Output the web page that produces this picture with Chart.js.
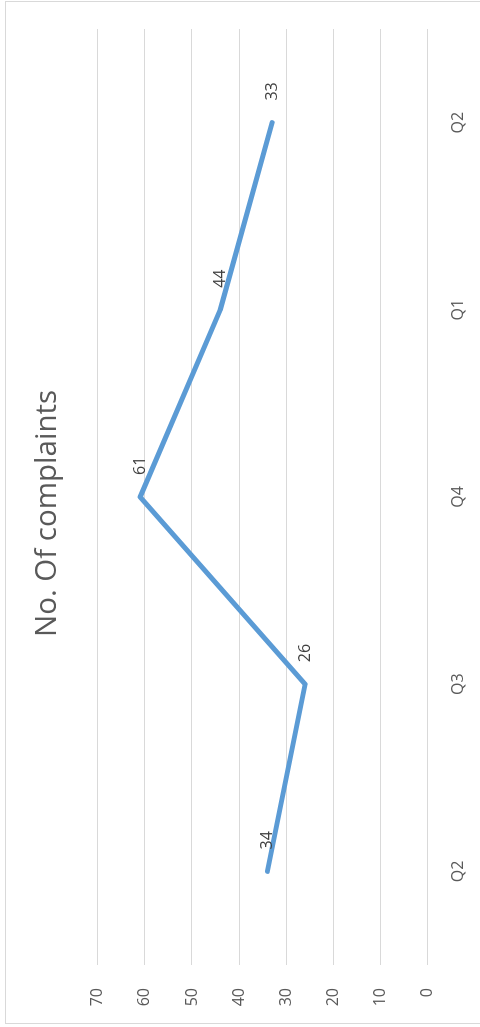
<!DOCTYPE html>
<html>
<head>
<meta charset="utf-8">
<script src="https://cdn.jsdelivr.net/npm/chart.js@4/dist/chart.umd.min.js"></script>
<style>
  html, body { margin: 0; padding: 0; background: #fff; overflow: hidden; }
  body { width: 480px; height: 1027px; position: relative; }
  /* chart is laid out landscape and turned a quarter to the left */
  #wrap {
    position: absolute; left: 0; top: 0;
    width: 1027px; height: 480px;
    transform-origin: 0 0;
    transform: translateY(1027px) rotate(-90deg);
  }
  #frame {
    position: absolute; left: 3px; top: 5px;
    width: 1021px; height: 500px;
    border: 1px solid #d9d9d9;
  }
  #myChart { position: absolute; left: 0; top: 0; }
</style>
</head>
<body>
<div id="wrap">
  <canvas id="myChart" width="1027" height="480"></canvas>
  <div id="frame"></div>
</div>
<script>
const quarters = ["Q2", "Q3", "Q4", "Q1", "Q2"];
const complaints = [34, 26, 61, 44, 33];
const yTicks = [0, 10, 20, 30, 40, 50, 60, 70];

const font = "'Open Sans', 'DejaVu Sans', sans-serif";

// value labels to the right of each point
const pointLabels = {
  id: "pointLabels",
  afterDatasetsDraw(chart) {
    const ctx = chart.ctx;
    const meta = chart.getDatasetMeta(0);
    ctx.save();
    ctx.font = "16px " + font;
    ctx.fillStyle = "#404040";
    ctx.textAlign = "left";
    ctx.textBaseline = "middle";
    meta.data.forEach((pt, i) => {
      ctx.fillText(String(complaints[i]), pt.x + 22, pt.y);
    });
    ctx.restore();
  }
};

const ctx = document.getElementById("myChart");
new Chart(ctx, {
  type: "line",
  data: {
    labels: quarters,
    datasets: [
      {
        label: "No. Of complaints",
        data: complaints,
        borderColor: "#5b9bd5",
        borderWidth: 5,
        borderCapStyle: "round",
        borderJoinStyle: "round",
        pointRadius: 0,
        tension: 0,
        fill: false,
      },
    ],
  },
  options: {
    responsive: false,
    animation: false,
    devicePixelRatio: 1,
    plugins: {
      legend: { display: false },
      tooltip: { enabled: false },
      title: {
        display: true,
        text: "No. Of complaints",
        color: "#595959",
        font: { family: font, size: 29.5, weight: "normal", lineHeight: 1.2 },
        padding: { top: 30, bottom: 32.3 },
      },
    },
    scales: {
      x: {
        offset: true,
        grid: { display: false, drawTicks: false },
        border: { display: false },
        ticks: {
          color: "#595959",
          font: { family: font, size: 16 },
          padding: 21,
        },
        afterFit(scale) { scale.height = 52.3; },
      },
      y: {
        min: 0,
        max: 70,
        grid: { color: "#d9d9d9", lineWidth: 1, drawTicks: false },
        border: { display: false },
        afterBuildTicks(scale) { scale.ticks = yTicks.map(v => ({ value: v })); },
        ticks: {
          color: "#595959",
          font: { family: font, size: 16 },
          padding: 23,
        },
        afterFit(scale) { scale.width = 62; },
      },
      // empty strip on the far side so the title stays centred on the canvas
      yRight: {
        position: "right",
        grid: { display: false, drawTicks: false },
        border: { display: false },
        ticks: { display: false },
        afterFit(scale) { scale.width = 29; },
      },
    },
  },
  plugins: [pointLabels],
});
</script>
</body>
</html>
